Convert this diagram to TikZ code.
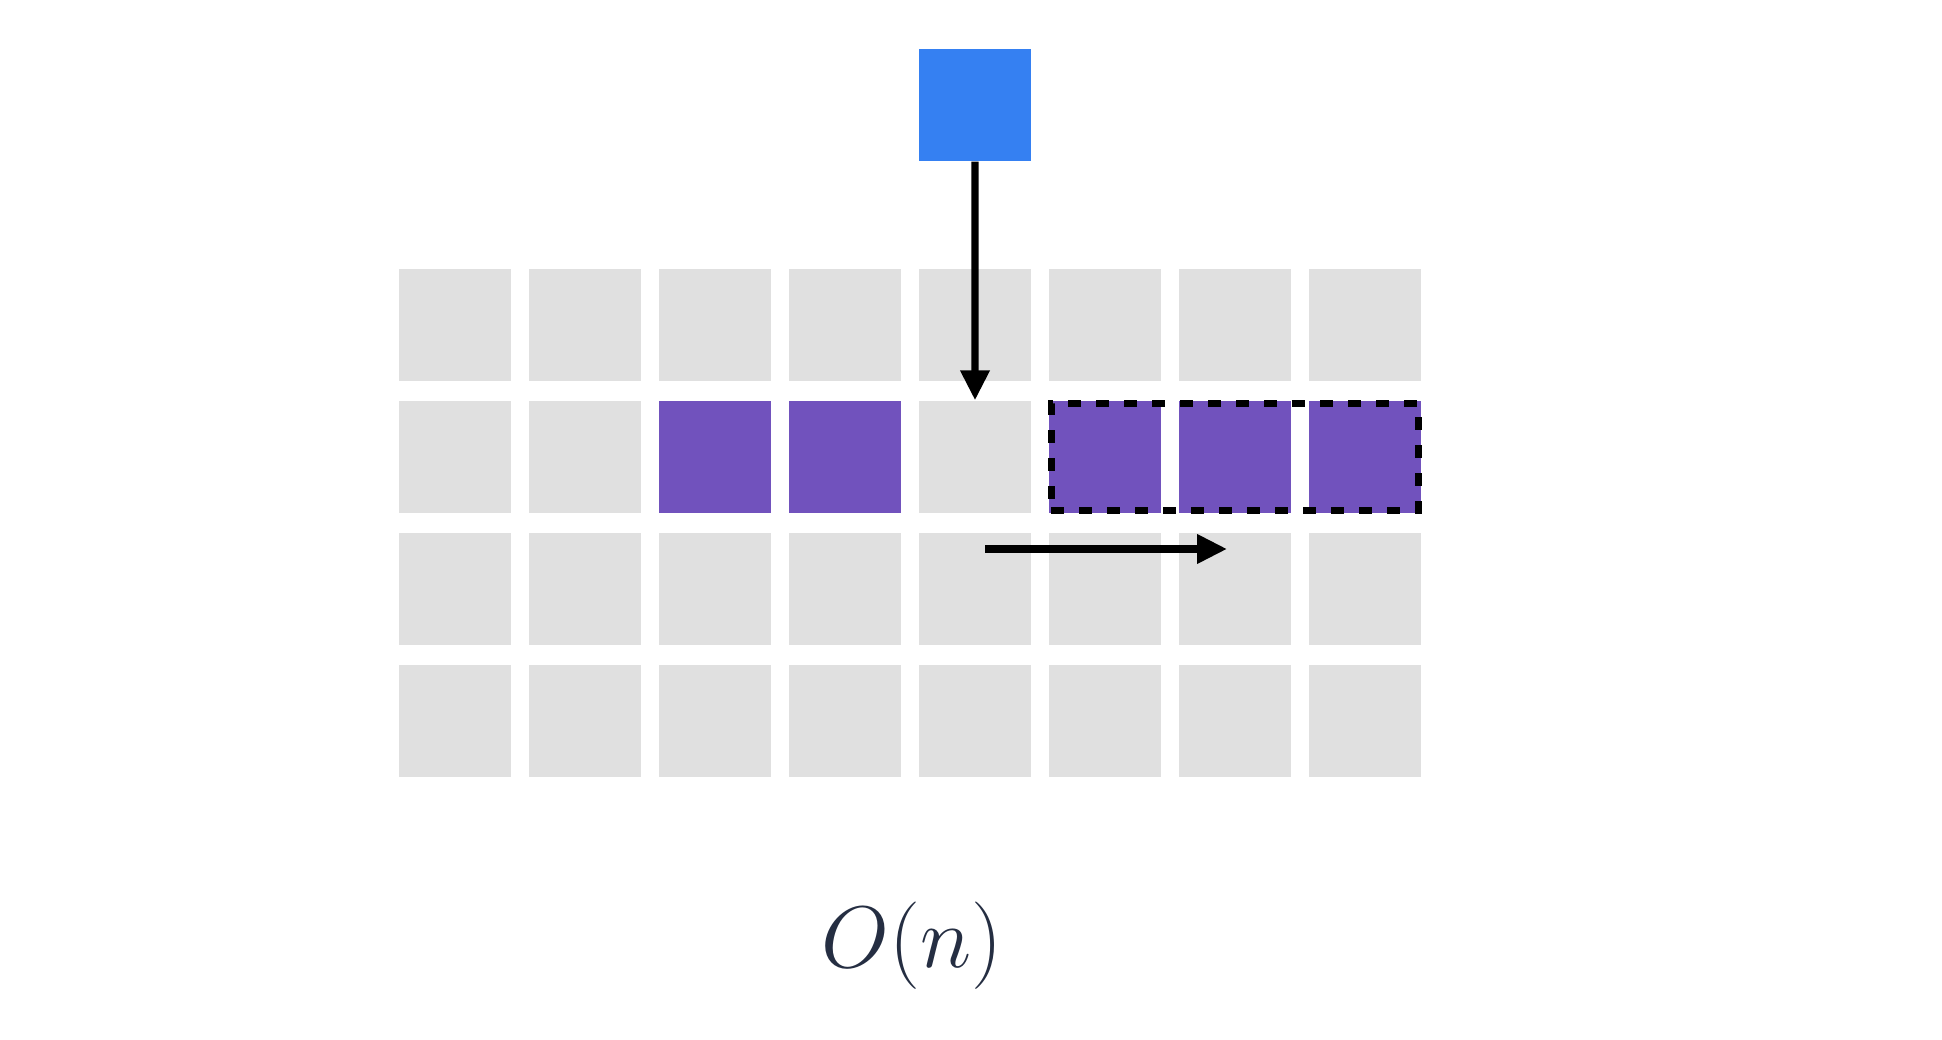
\documentclass[tikz,border=0pt]{standalone}
\usepackage{amsmath}
\usepackage{xcolor}
\usepackage{tikz}
\usetikzlibrary{arrows.meta, positioning, fit}

\definecolor{cellgray}{HTML}{E0E0E0}
\definecolor{cellpurple}{HTML}{7152BD}
\definecolor{keyblue}{HTML}{3580F2}
\definecolor{inktext}{HTML}{252E42}

\begin{document}
\begin{tikzpicture}[
    cell/.style={rectangle, minimum size=1.12cm, inner sep=0pt, fill=cellgray},
    hit/.style={cell, fill=cellpurple},
    key/.style={rectangle, minimum size=1.12cm, inner sep=0pt, fill=keyblue},
    window/.style={rectangle, draw=black, line width=1.9pt, inner sep=-0.9pt,
                   dash pattern=on 0.13cm off 0.15cm},
    arr/.style={-{Triangle[length=3mm, width=2.8mm]}, line width=2pt},
]

    % ── Frame ──
    \useasboundingbox (0, 0) rectangle (19.42, -10.40);

    % ── Grid of cells (4 rows x 8 columns) ──
    \foreach \r in {0,...,3} {
        \foreach \c in {0,...,7} {
            \node[cell] (c-\r-\c) at ({4.55 + 1.30*\c}, {-3.25 - 1.32*\r}) {};
        }
    }

    % ── Matched cells in the second row ──
    \foreach \c in {2,3,5,6,7} {
        \node[hit] at (c-1-\c) {};
    }

    % ── Window over the last three ──
    \node[window, fit=(c-1-5)(c-1-7)] (win) {};

    % ── Incoming key ──
    \node[key] (k) at (9.75, -1.05) {};
    \draw[arr] (k.south) -- (c-1-4.north);

    % ── Scan direction ──
    \coordinate (mv-a) at (9.85, -5.49);
    \coordinate (mv-b) at (12.27, -5.49);
    \draw[arr] (mv-a) -- (mv-b);

    % ── Complexity label ──
    \node[font=\fontsize{29.5}{35}\selectfont, text=inktext, anchor=base]
        (cost) at (9.12, -9.68) {$O(n)$};

\end{tikzpicture}
\end{document}
